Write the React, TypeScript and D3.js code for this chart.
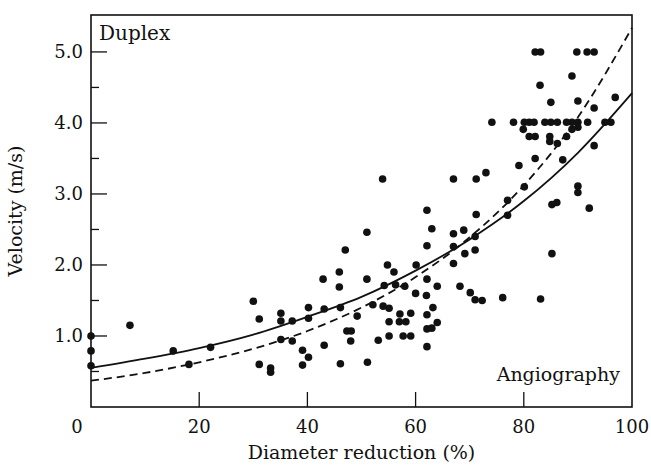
import * as d3 from 'd3';

// scatter points: diameter reduction (%), velocity (m/s)
const pointX = [
	0, 0, 0, 7.2, 15.2, 18.1, 22.1, 30.0, 31.1, 31.1, 33.2, 33.2, 35.1, 35.1, 35.1,
	37.2, 37.2, 39.1, 39.1, 40.2, 40.2, 40.2, 42.9, 43.1, 43.1, 45.9, 45.9, 46.1, 46.1,
	47.0, 47.3, 48.1, 48.0, 49.2, 51.0, 51.0, 51.1, 52.1, 53.1, 53.9, 54.0, 54.2, 54.8,
	55.1, 55.1, 55.1, 56.0, 56.3, 57.1, 57.0, 57.7, 58.0, 58.2, 59.1, 59.1, 60.1, 60.0,
	62.1, 62.1, 62.1, 62.0, 62.1, 62.1, 62.1, 63.0, 63.2, 63.0, 64.0, 64.0, 67.0, 67.0,
	67.0, 67.0, 68.9, 69.1, 68.2, 70.1, 71.2, 71.2, 71.0, 71.0, 71.0, 72.3, 73.0, 74.1,
	76.1, 77.0, 77.0, 78.1, 79.1, 79.9, 80.1, 80.1, 81.0, 81.0, 81.9, 82.1, 82.1, 82.1,
	83.1, 83.0, 83.9, 83.1, 85.0, 85.0, 84.8, 84.8, 85.2, 85.2, 86.2, 86.2, 86.1, 87.2,
	87.9, 87.9, 88.9, 88.9, 88.9, 89.8, 90.0, 90.0, 90.0, 90.0, 90.0, 91.7, 91.8, 92.1,
	93.0, 93.0, 93.0, 95.0, 96.1, 96.9,
];
const pointY = [
	1.0, 0.79, 0.58, 1.15, 0.79, 0.6, 0.84, 1.49, 1.24, 0.6, 0.55, 0.49, 1.32, 1.21, 0.95,
	1.21, 0.93, 0.8, 0.59, 1.4, 1.25, 0.7, 1.8, 1.38, 0.87, 1.9, 1.69, 1.4, 0.61,
	2.21, 1.07, 1.07, 0.93, 1.28, 2.46, 1.8, 0.63, 1.44, 0.94, 3.21, 1.42, 1.71, 2.0,
	1.39, 1.2, 1.0, 1.9, 1.72, 1.31, 1.2, 1.0, 1.7, 1.2, 1.32, 1.0, 2.0, 1.6,
	2.77, 2.27, 1.8, 1.57, 1.3, 1.1, 0.85, 2.51, 1.4, 1.11, 1.7, 1.19, 3.21, 2.44,
	2.26, 2.02, 2.49, 2.16, 1.7, 1.61, 3.21, 2.71, 2.4, 2.21, 1.51, 1.5, 3.3, 4.01,
	1.54, 2.91, 2.7, 4.01, 3.4, 3.91, 4.01, 3.1, 4.01, 3.81, 4.01, 5.0, 3.81, 3.5,
	5.0, 4.53, 4.01, 1.52, 4.29, 4.01, 3.81, 3.74, 2.85, 2.16, 4.01, 3.71, 2.88, 3.48,
	4.01, 3.81, 4.66, 4.01, 3.91, 5.0, 4.31, 4.01, 3.94, 3.11, 3.02, 5.0, 4.01, 2.8,
	5.0, 4.21, 3.68, 4.01, 4.01, 4.36,
];

// fitted curves
const curveX = [0, 10, 20, 30, 40, 50, 60, 70, 80, 90, 100];
const duplexFit = [0.55, 0.68, 0.83, 1.02, 1.27, 1.55, 1.92, 2.36, 2.9, 3.58, 4.42];
const angioFit = [0.37, 0.48, 0.63, 0.82, 1.07, 1.4, 1.83, 2.39, 3.12, 4.08, 5.34];

const xTicks = [0, 20, 40, 60, 80, 100];
const yTicks = [1, 2, 3, 4, 5];
const yMinor = [0.5, 1.5, 2.5, 3.5, 4.5];

export default function App() {
	const width = 651;
	const height = 467;
	const margin = { top: 15, right: 19, bottom: 60, left: 91 };
	const font = '"DejaVu Serif", serif';

	const x = d3.scaleLinear().domain([0, 100]).range([margin.left, width - margin.right]);
	const y = d3.scaleLinear().domain([0, 5.52]).range([height - margin.bottom, margin.top]);

	const line = d3
		.line<number>()
		.x((_, i) => x(curveX[i]))
		.curve(d3.curveMonotoneX);

	const x0 = x(0);
	const x1 = x(100);
	const y0 = y(0);
	const yTop = y(5.52);

	return (
		<svg
			width={width}
			height={height}
			style={{ position: 'absolute', left: 0, top: 0, background: '#fff' }}
			fontFamily={font}
		>
			{/* frame */}
			<rect x={x0} y={yTop} width={x1 - x0} height={y0 - yTop} fill='none' stroke='#111' strokeWidth='1.6' />

			{/* y ticks */}
			{yTicks.map((t) => (
				<g key={t}>
					<line x1={x0} x2={x0 + 16} y1={y(t)} y2={y(t)} stroke='#111' strokeWidth='1.3' />
					<text x={x0 - 8} y={y(t)} dy='0.36em' textAnchor='end' fontSize='18' fill='#111'>
						{t.toFixed(1)}
					</text>
				</g>
			))}
			{yMinor.map((t) => (
				<line key={t} x1={x0} x2={x0 + 8} y1={y(t)} y2={y(t)} stroke='#111' strokeWidth='1.3' />
			))}

			{/* x ticks */}
			{xTicks.map((t, i) => (
				<g key={t}>
					{t > 0 && t < 100 && (
						<line x1={x(t)} x2={x(t)} y1={y0} y2={y0 - 15} stroke='#111' strokeWidth='1.3' />
					)}
					<text x={x(t) + (i === 0 ? -14 : 0)} y={y0 + 26} textAnchor='middle' fontSize='18' fill='#111'>
						{t}
					</text>
				</g>
			))}

			{/* curves */}
			<path d={line.y((d) => y(d))(duplexFit) ?? ''} fill='none' stroke='#111' strokeWidth='1.8' />
			<path
				d={line.y((d) => y(d))(angioFit) ?? ''}
				fill='none'
				stroke='#111'
				strokeWidth='1.8'
				strokeDasharray='8,5'
			/>

			{/* points */}
			{pointX.map((px, i) => (
				<circle key={i} cx={x(px)} cy={y(pointY[i])} r='3.8' fill='#111' />
			))}

			{/* labels */}
			<text x={x0 + 8} y={yTop + 25} fontSize='20' fill='#111'>
				Duplex
			</text>
			<text x={x1 - 12} y={y0 - 26} textAnchor='end' fontSize='19' fill='#111'>
				Angiography
			</text>
			<text x={(x0 + x1) / 2} y={height - 8} textAnchor='middle' fontSize='19' fill='#111'>
				Diameter reduction (%)
			</text>
			<text
				transform={`translate(22,${(yTop + y0) / 2}) rotate(-90)`}
				textAnchor='middle'
				fontSize='19'
				fill='#111'
			>
				Velocity (m/s)
			</text>
		</svg>
	);
}
